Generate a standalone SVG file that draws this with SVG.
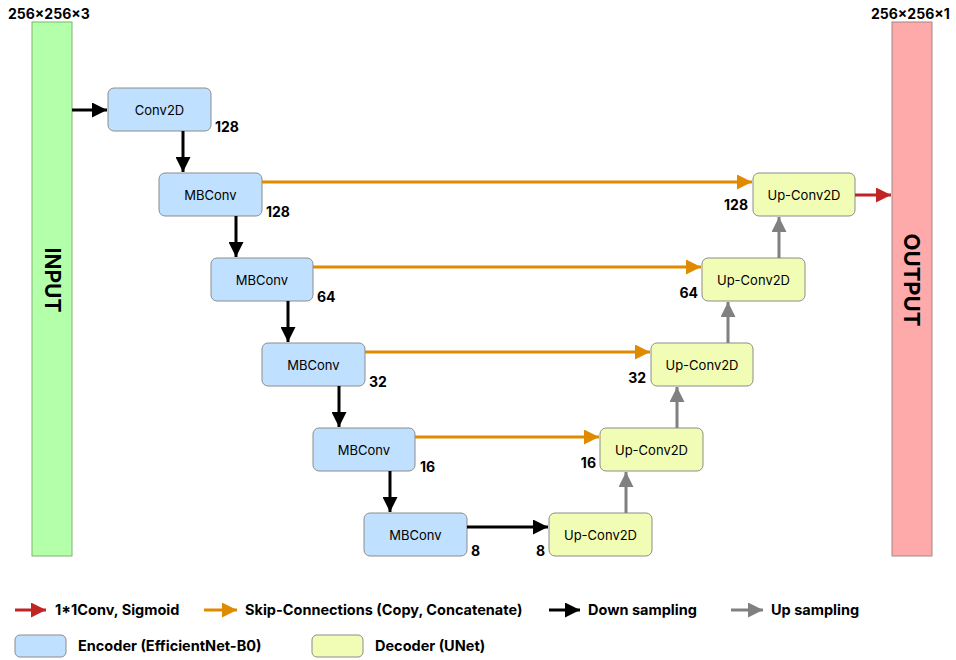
<svg xmlns="http://www.w3.org/2000/svg" width="956" height="660" viewBox="0 0 956 660">
<style>
text{font-family:Inter,"Noto Sans","Liberation Sans",sans-serif;fill:#000}
.enc{fill:#bfe0ff;stroke:#8c8c8c;stroke-width:1}
.dec{fill:#f1fdb4;stroke:#8c8c8c;stroke-width:1}
.nt{font-size:13px;text-anchor:middle;dominant-baseline:central}
.lb{font-size:14px;font-weight:bold}
.lg{font-size:14.5px;font-weight:bold}
.ln{fill:none;stroke-width:3}
.k{stroke:#000}.o{stroke:#e08a00}.g{stroke:#808080}.r{stroke:#c02424}
</style>
<defs>
<marker id="ak" viewBox="0 0 10 10" refX="10" refY="5" markerWidth="5" markerHeight="5" markerUnits="strokeWidth" orient="auto"><path d="M0,0L10,5L0,10z" fill="#000"/></marker>
<marker id="ao" viewBox="0 0 10 10" refX="10" refY="5" markerWidth="5" markerHeight="5" markerUnits="strokeWidth" orient="auto"><path d="M0,0L10,5L0,10z" fill="#e08a00"/></marker>
<marker id="ag" viewBox="0 0 10 10" refX="10" refY="5" markerWidth="5" markerHeight="5" markerUnits="strokeWidth" orient="auto"><path d="M0,0L10,5L0,10z" fill="#808080"/></marker>
<marker id="ar" viewBox="0 0 10 10" refX="10" refY="5" markerWidth="5" markerHeight="5" markerUnits="strokeWidth" orient="auto"><path d="M0,0L10,5L0,10z" fill="#c02424"/></marker>
</defs>
<rect width="956" height="660" fill="#fff"/>

<g id="input">
<rect x="32" y="22" width="40" height="534" fill="#b3ffaa" stroke="#7fb36b"/>
<text transform="translate(52 280) rotate(90)" font-size="21" font-weight="bold" text-anchor="middle" dominant-baseline="central">INPUT</text>
<text x="8" y="19" class="lb">256×256×3</text>
</g>
<g id="output">
<rect x="892" y="22" width="40" height="534" fill="#ffaaaa" stroke="#a08888"/>
<text transform="translate(912 280) rotate(90)" font-size="22" font-weight="bold" text-anchor="middle" dominant-baseline="central">OUTPUT</text>
<text x="871" y="19" class="lb">256×256×1</text>
</g>

<g id="conv2d"><rect class="enc" x="108" y="88" width="103" height="43" rx="6"/><text class="nt" x="159.5" y="109.5">Conv2D</text><text class="lb" x="215" y="132">128</text></g>
<g id="mb1"><rect class="enc" x="159" y="173" width="103" height="43" rx="6"/><text class="nt" x="210.5" y="194.5">MBConv</text><text class="lb" x="266" y="217">128</text></g>
<g id="mb2"><rect class="enc" x="211" y="258" width="102" height="43" rx="6"/><text class="nt" x="262" y="279.5">MBConv</text><text class="lb" x="317" y="302">64</text></g>
<g id="mb3"><rect class="enc" x="262" y="343" width="103" height="43" rx="6"/><text class="nt" x="313.5" y="364.5">MBConv</text><text class="lb" x="369" y="387">32</text></g>
<g id="mb4"><rect class="enc" x="313" y="428" width="102" height="43" rx="6"/><text class="nt" x="364" y="449.5">MBConv</text><text class="lb" x="420" y="472">16</text></g>
<g id="mb5"><rect class="enc" x="364" y="513" width="103" height="43" rx="6"/><text class="nt" x="415.5" y="534.5">MBConv</text><text class="lb" x="471" y="556">8</text></g>

<g id="up1"><rect class="dec" x="753" y="173" width="102" height="43" rx="6"/><text class="nt" x="804" y="194.5">Up-Conv2D</text><text class="lb" x="748" y="210" text-anchor="end">128</text></g>
<g id="up2"><rect class="dec" x="702" y="258" width="103" height="43" rx="6"/><text class="nt" x="753.5" y="279.5">Up-Conv2D</text><text class="lb" x="698" y="298" text-anchor="end">64</text></g>
<g id="up3"><rect class="dec" x="651" y="343" width="102" height="43" rx="6"/><text class="nt" x="702" y="364.5">Up-Conv2D</text><text class="lb" x="646" y="383" text-anchor="end">32</text></g>
<g id="up4"><rect class="dec" x="600" y="428" width="103" height="43" rx="6"/><text class="nt" x="651.5" y="449.5">Up-Conv2D</text><text class="lb" x="596" y="468" text-anchor="end">16</text></g>
<g id="up5"><rect class="dec" x="549" y="513" width="103" height="43" rx="6"/><text class="nt" x="600.5" y="534.5">Up-Conv2D</text><text class="lb" x="545" y="556" text-anchor="end">8</text></g>

<g id="connectors">
<line class="ln k" x1="72" y1="110" x2="107" y2="110" marker-end="url(#ak)"/>
<line class="ln k" x1="183" y1="131" x2="183" y2="172" marker-end="url(#ak)"/>
<line class="ln k" x1="236" y1="216" x2="236" y2="257" marker-end="url(#ak)"/>
<line class="ln k" x1="288" y1="301" x2="288" y2="342" marker-end="url(#ak)"/>
<line class="ln k" x1="339" y1="386" x2="339" y2="427" marker-end="url(#ak)"/>
<line class="ln k" x1="390" y1="471" x2="390" y2="512" marker-end="url(#ak)"/>
<line class="ln k" x1="467" y1="527" x2="548" y2="527" marker-end="url(#ak)"/>
<line class="ln o" x1="262" y1="182" x2="752" y2="182" marker-end="url(#ao)"/>
<line class="ln o" x1="313" y1="267" x2="701" y2="267" marker-end="url(#ao)"/>
<line class="ln o" x1="365" y1="352" x2="650" y2="352" marker-end="url(#ao)"/>
<line class="ln o" x1="415" y1="437" x2="599" y2="437" marker-end="url(#ao)"/>
<line class="ln g" x1="626" y1="513" x2="626" y2="472" marker-end="url(#ag)"/>
<line class="ln g" x1="677" y1="428" x2="677" y2="387" marker-end="url(#ag)"/>
<line class="ln g" x1="728" y1="343" x2="728" y2="302" marker-end="url(#ag)"/>
<line class="ln g" x1="779" y1="258" x2="779" y2="217" marker-end="url(#ag)"/>
<line class="ln r" x1="855" y1="195" x2="891" y2="195" marker-end="url(#ar)"/>
</g>

<g id="legend">
<line class="ln r" x1="15" y1="610" x2="46" y2="610" marker-end="url(#ar)"/>
<text class="lg" x="55" y="615">1*1Conv, Sigmoid</text>
<line class="ln o" x1="204" y1="610" x2="237" y2="610" marker-end="url(#ao)"/>
<text class="lg" x="245" y="615">Skip-Connections (Copy, Concatenate)</text>
<line class="ln k" x1="549" y1="610" x2="580" y2="610" marker-end="url(#ak)"/>
<text class="lg" x="588" y="615">Down sampling</text>
<line class="ln g" x1="731" y1="610" x2="763" y2="610" marker-end="url(#ag)"/>
<text class="lg" x="771" y="615">Up sampling</text>
<rect class="enc" x="15" y="635" width="51" height="22" rx="5"/>
<text class="lg" x="78" y="651">Encoder (EfficientNet-B0)</text>
<rect class="dec" x="312" y="635" width="51" height="22" rx="5"/>
<text class="lg" x="375" y="651">Decoder (UNet)</text>
</g>
</svg>
